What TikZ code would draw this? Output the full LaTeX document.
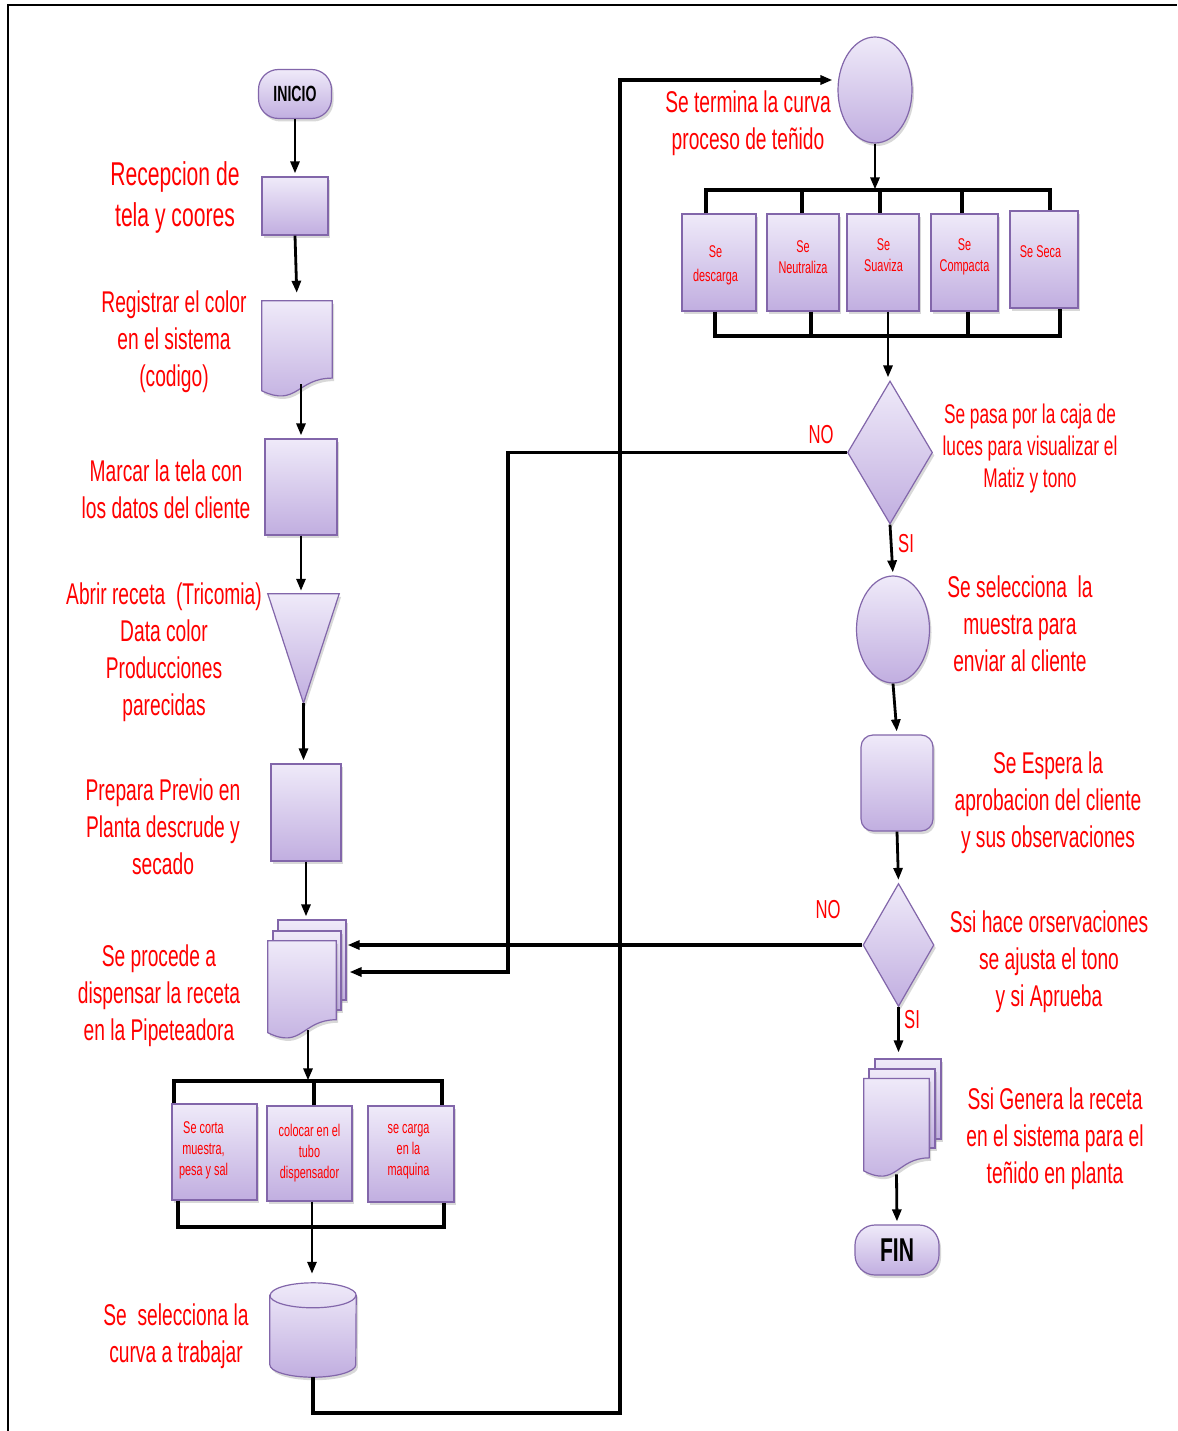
\documentclass[tikz,border=0pt]{standalone}
\usepackage{fontspec}
\setmainfont[FakeStretch=0.64]{Liberation Sans}
\usetikzlibrary{arrows.meta,shapes.geometric,shadows,calc}

\definecolor{lavtop}{RGB}{239,234,249}
\definecolor{lavbot}{RGB}{193,174,224}
\definecolor{lavedge}{RGB}{130,102,170}
\definecolor{flowred}{RGB}{255,0,0}

% document symbol drawn over a plain rectangular frame node
\newcommand\flowdoc[1]{%
  \path[shapefill] (#1.north west) -- (#1.north east)
    -- ($(#1.north east)!0.802!(#1.south east)$)
    .. controls ($(#1.north)!0.802!(#1.south)$) and ($(#1.north)!1.107!(#1.south)$)
    .. ($(#1.north west)!0.934!(#1.south west)$) -- cycle;}

\begin{document}
\begin{tikzpicture}[x=1pt,y=-1pt,
  shapefill/.style={top color=lavtop, bottom color=lavbot, draw=lavedge, line width=1.2pt,
     drop shadow={opacity=0.3, shadow xshift=2pt, shadow yshift=-3pt}},
  proc/.style={shapefill, rectangle, inner sep=0pt},
  frame/.style={rectangle, inner sep=0pt},
  pill/.style={shapefill, rectangle, rounded corners=20pt, inner sep=0pt,
     font=\bfseries\fontsize{22}{26}\selectfont},
  oval/.style={shapefill, ellipse, inner sep=0pt},
  decide/.style={shapefill, diamond, inner sep=0pt},
  lab/.style={text=flowred, align=center, inner sep=0pt, font=\fontsize{30}{37}\selectfont},
  boxlab/.style={text=flowred, align=center, inner sep=0pt, font=\fontsize{17}{21}\selectfont},
  yn/.style={text=flowred, inner sep=0pt, font=\fontsize{26}{30}\selectfont},
  tip/.style={-{Triangle[length=12pt,width=9pt]}},
  arr/.style={tip, line width=2.8pt, shorten >=3pt},
  bar/.style={line width=4pt},
  link/.style={line width=3.5pt},
]
\useasboundingbox (0,0) rectangle (1177,1431);
\fill[white] (0,0) rectangle (1177,1431);
\draw[line width=2.5pt] (8,1431) -- (8,5) -- (1177,5);

% ---------------- left column ----------------
\node[pill, minimum width=73pt, minimum height=49pt] (inicio) at (295,94) {INICIO};
\node[proc, minimum width=66pt, minimum height=58pt] (recep) at (295,206) {};
\node[frame, minimum width=70pt, minimum height=96pt] (regis) at (297,349) {};
\flowdoc{regis}
\node[proc, minimum width=72pt, minimum height=96pt] (marcar) at (301,487) {};
\node[frame, minimum width=71pt, minimum height=109pt] (abrir) at (303.5,648.5) {};
\path[shapefill] (abrir.north west) -- (abrir.north east) -- (abrir.south) -- cycle;
\node[proc, minimum width=70pt, minimum height=97pt] (prepara) at (306,812.5) {};

% multi-document
\node[proc, minimum width=68pt, minimum height=80pt] (disp-b) at (312,960) {};
\node[proc, minimum width=68pt, minimum height=79pt] (disp-m) at (307,970.5) {};
\node[frame, minimum width=68pt, minimum height=98pt] (disp) at (302,990) {};
\flowdoc{disp}

% parallel tasks
\node[proc, minimum width=85pt, minimum height=96pt] (b1) at (214.5,1152) {};
\node[proc, minimum width=85pt, minimum height=95pt] (b2) at (309.5,1153.5) {};
\node[proc, minimum width=86pt, minimum height=96pt] (b3) at (411,1154) {};

% database cylinder
\node[frame, minimum width=86pt, minimum height=94pt] (cyl) at (313,1330) {};
\path[shapefill] ($(cyl.north west)+(0,12.5)$) -- ($(cyl.south west)+(0,-12.5)$)
   arc[start angle=180, end angle=360, x radius=43pt, y radius=12.5pt]
   -- ($(cyl.north east)+(0,12.5)$)
   arc[start angle=0, end angle=180, x radius=43pt, y radius=12.5pt] -- cycle;
\draw[lavedge, line width=1.2pt] ($(cyl.north west)+(0,12.5)$)
   arc[start angle=180, end angle=360, x radius=43pt, y radius=12.5pt];

% ---------------- right column ----------------
\node[oval, minimum width=74pt, minimum height=106pt] (curva) at (875,90) {};
\node[proc, minimum width=74pt, minimum height=97pt] (s1) at (719,262.5) {};
\node[proc, minimum width=72pt, minimum height=97pt] (s2) at (803,262.5) {};
\node[proc, minimum width=72pt, minimum height=97pt] (s3) at (883,262.5) {};
\node[proc, minimum width=67pt, minimum height=97pt] (s4) at (964.5,262.5) {};
\node[proc, minimum width=68pt, minimum height=97pt] (s5) at (1044,259.5) {};
\node[decide, minimum width=85pt, minimum height=143pt] (dec1) at (890,452.5) {};
\node[oval, minimum width=73pt, minimum height=107pt] (muestra) at (893,629.5) {};
\node[proc, rounded corners=12pt, minimum width=72pt, minimum height=96pt] (espera) at (897,783) {};
\node[decide, minimum width=71pt, minimum height=123pt] (dec2) at (898.5,945) {};
\node[proc, minimum width=66pt, minimum height=80pt] (gen-b) at (908,1099) {};
\node[proc, minimum width=66pt, minimum height=79pt] (gen-m) at (902,1108.5) {};
\node[frame, minimum width=65pt, minimum height=98.5pt] (gen) at (896.5,1128) {};
\flowdoc{gen}
\node[pill, minimum width=84pt, minimum height=50pt,
      font=\bfseries\fontsize{33}{36}\selectfont] (fin) at (897,1250) {FIN};

% ---------------- connectors, left ----------------
\draw[arr] (inicio.south) -- (recep.north);
\draw[arr, shorten >=8pt] (recep.south) -- (regis.north);
\coordinate (regis-out) at ($(regis.south)+(4,-13)$);
\draw[arr] (regis-out) -- (regis-out |- marcar.north);
\draw[arr] (marcar.south) -- (marcar.south |- abrir.north);
\draw[arr] (abrir.south) -- (abrir.south |- prepara.north);
\draw[arr] (prepara.south) -- (prepara.south |- disp-b.north);

\coordinate (lbar) at ([yshift=24pt]b2.north);
\coordinate (disp-out) at ($(disp.south)+(6,-9)$);
\draw[arr, shorten >=1pt] (disp-out) -- (disp-out |- lbar);
\draw[bar] ([xshift=3pt]b1.north west) |- ([xshift=-13pt,yshift=24pt]b3.north east)
   -- ([xshift=-13pt]b3.north east);
\draw[bar] ([xshift=4.5pt]b2.north) -- ++(0,-24);
\draw[bar] ([xshift=7pt]b1.south west) |- ([xshift=-11pt,yshift=-24pt]b3.south east)
   -- ([xshift=-11pt]b3.south east);
\coordinate (b2-out) at ([xshift=2.5pt]b2.south);
\draw[arr, shorten >=9pt] (b2-out) -- (b2-out |- cyl.north);

\coordinate (ret-low) at (620,1413);
\coordinate (ret-up) at (620,80);
\draw[link, tip, shorten >=5pt] (cyl.south) |- (ret-low) -- (ret-up) -- (ret-up -| curva.west);

% ---------------- connectors, right ----------------
\coordinate (rbar) at ([yshift=23pt]s3.north);
\draw[arr, shorten >=1pt] (curva.south) -- (curva.south |- rbar);
\draw[bar] ([xshift=-13pt]s1.north) |- ([xshift=6pt,yshift=20pt]s5.north) -- ([xshift=6pt]s5.north);
\draw[bar] ([xshift=-1pt]s2.north) -- ++(0,-23);
\draw[bar] ([xshift=-3pt]s3.north) -- ++(0,-23);
\draw[bar] ([xshift=-2.5pt]s4.north) -- ++(0,-24);
\draw[bar] ([xshift=-4pt]s1.south) |- ([xshift=16pt,yshift=-27pt]s5.south) -- ([xshift=16pt]s5.south);
\draw[bar] ([xshift=8pt]s2.south) -- ++(0,24);
\draw[bar] ([xshift=3.5pt]s4.south) -- ++(0,24);
\coordinate (s3-out) at ([xshift=5pt]s3.south);
\draw[arr] (s3-out) -- (s3-out |- dec1.north);

\coordinate (ret-x) at (508,972);
\draw[link, tip, shorten >=3pt] (dec1.west) -| (ret-x) -- (ret-x -| disp-b.east);
\draw[arr] (dec1.south) -- (muestra.north);
\draw[arr] (muestra.south) -- (espera.north);
\draw[arr] (espera.south) -- (dec2.north);
\draw[link, tip, shorten >=1pt] (dec2.west) -- (dec2.west -| disp-b.east);
\draw[arr, shorten >=6pt] (dec2.south) -- (dec2.south |- gen-b.north);
\draw[arr] ([yshift=3pt]gen.south) -- (fin.north);

% ---------------- labels ----------------
\node[yn] (no1) at (821,435) {NO};
\node[yn] (si1) at (906,544) {SI};
\node[yn] (no2) at (828,910) {NO};
\node[yn] (si2) at (912,1020) {SI};

\node[lab, font=\fontsize{33}{41}\selectfont] (recep-t) at (175,197) {Recepcion de\\tela y coores};
\node[lab] (regis-t) at (174,342) {Registrar el color\\en el sistema\\(codigo)};
\node[lab] (marcar-t) at (166,489) {Marcar la tela con\\los datos del cliente};
\node[lab] (abrir-t) at (164,652) {Abrir receta\ \ (Tricomia)\\Data color\\Producciones\\parecidas};
\node[lab] (prepara-t) at (163,827) {Prepara Previo en\\Planta descrude y\\secado};
\node[lab] (disp-t) at (159,996) {Se procede a\\dispensar la receta\\en la Pipeteadora};
\node[lab] (cyl-t) at (176,1336) {Se\ \ selecciona la\\curva a trabajar};
\node[lab] (curva-t) at (748,123) {Se termina la curva\\proceso de teñido};
\node[lab, font=\fontsize{27}{32}\selectfont] (dec1-t) at (1030,449) {Se pasa por la caja de\\luces para visualizar el\\Matiz y tono};
\node[lab] (muestra-t) at (1020,624) {Se selecciona\ \ la\\muestra para\\enviar al cliente};
\node[lab] (espera-t) at (1048,803) {Se Espera la\\aprobacion del cliente\\y sus observaciones};
\node[lab] (dec2-t) at (1049,962) {Ssi hace orservaciones\\se ajusta el tono\\y si Aprueba};
\node[lab] (gen-t) at (1055,1139) {Ssi Genera la receta\\en el sistema para el\\teñido en planta};

\node[boxlab, font=\fontsize{17}{24}\selectfont] (s1-t) at ([xshift=-3.5pt,yshift=-2.5pt]s1.center) {Se\\descarga};
\node[boxlab] (s2-t) at ([yshift=5pt]s2.center) {Se\\Neutraliza};
\node[boxlab] (s3-t) at ([xshift=0.5pt,yshift=7pt]s3.center) {Se\\Suaviza};
\node[boxlab] (s4-t) at ([yshift=6pt]s4.center) {Se\\Compacta};
\node[boxlab] (s5-t) at ([xshift=-3.5pt,yshift=7.5pt]s5.center) {Se Seca};
\node[boxlab] (b1-t) at ([xshift=-11pt,yshift=2pt]b1.center) {Se corta\\muestra,\\pesa y sal};
\node[boxlab] (b2-t) at (b2.center) {colocar en el\\tubo\\dispensador};
\node[boxlab] (b3-t) at ([xshift=-2.5pt,yshift=2pt]b3.center) {se carga\\en la\\maquina};
\end{tikzpicture}
\end{document}
